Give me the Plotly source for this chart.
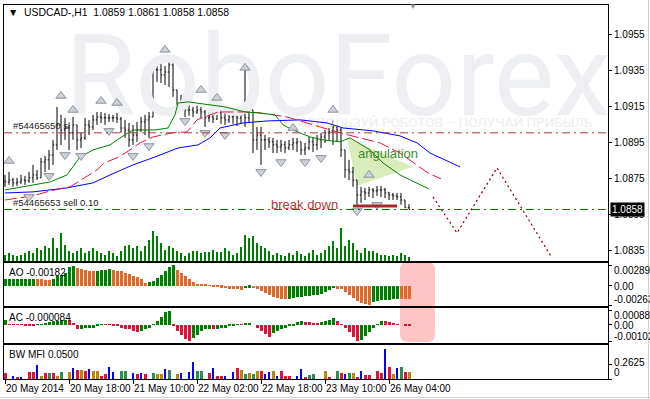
import plotly.graph_objects as go

W, H = 650, 399

# ---------------- data ----------------
bar_high = [1.08772,1.08789,1.08756,1.08756,1.08772,1.08767,1.08789,1.08828,1.0880,1.08867,
            1.08878,1.08911,1.08967,1.0915,1.09106,1.09089,1.0905,1.09094,1.0905,1.09006,
            1.09089,1.09078,1.09106,1.09122,1.09122,1.09117,1.09111,1.09106,1.09117,1.09094,
            1.09078,1.09061,1.0905,1.09067,1.09094,1.09106,1.09122,1.09411,1.0940,1.09411,
            1.09378,1.09411,1.09394,1.09244,1.09217,1.09161,1.09161,1.0915,1.09156,1.0915,
            1.09133,1.09122,1.09111,1.09144,1.09133,1.09122,1.09117,1.09133,1.09133,1.09144,
            1.09356,1.09189,1.09133,1.09039,1.09039,1.08994,1.08983,1.08978,1.08967,1.08967,
            1.08961,1.08967,1.08978,1.08978,1.08956,1.0895,1.08983,1.08978,1.08994,1.09006,
            1.09022,1.09033,1.09078,1.0905,1.09033,1.08911,1.08856,1.08817,1.08744,1.08706,
            1.0870,1.08706,1.0870,1.08711,1.08711,1.0870,1.08678,1.08672,1.08672,1.08672,
            1.08633,1.0861]
bar_low = [1.08706,1.08717,1.08706,1.08711,1.08722,1.08717,1.08728,1.08728,1.08744,1.08756,
           1.08789,1.0880,1.08828,1.08911,1.08939,1.08967,1.08911,1.08967,1.08911,1.08922,
           1.08967,1.08994,1.09022,1.0905,1.09061,1.0905,1.09067,1.09067,1.09061,1.09006,
           1.08978,1.08928,1.08939,1.08956,1.09011,1.08994,1.08978,1.09094,1.09289,1.09283,
           1.09272,1.09261,1.09206,1.09117,1.09122,1.09094,1.0910,1.09094,1.09111,1.09089,
           1.09039,1.09067,1.09061,1.09078,1.09056,1.0905,1.09061,1.09056,1.09044,1.09056,
           1.09039,1.09061,1.08894,1.08911,1.08828,1.08911,1.08922,1.08894,1.08894,1.0890,
           1.08894,1.08911,1.08911,1.0890,1.08883,1.08883,1.08911,1.0890,1.08911,1.08922,
           1.0895,1.08967,1.08939,1.08956,1.08872,1.08756,1.08744,1.08706,1.08606,1.08617,
           1.08633,1.0865,1.08644,1.08656,1.0865,1.08644,1.08633,1.08633,1.08633,1.08606,
           1.08589,1.0858]
bar_close = [1.08733,1.08744,1.08728,1.08733,1.08744,1.08739,1.08756,1.08772,1.08756,1.08844,
             1.08856,1.08883,1.08939,1.0905,1.09022,1.09033,1.09006,1.0905,1.08967,1.08978,
             1.0905,1.09039,1.09078,1.09094,1.09089,1.09089,1.09089,1.09089,1.09083,1.09033,
             1.09022,1.08967,1.08994,1.09022,1.09067,1.09078,1.09094,1.09356,1.09356,1.09328,
             1.09344,1.09383,1.09244,1.09161,1.09144,1.09133,1.09133,1.09122,1.09133,1.09122,
             1.09089,1.09094,1.09083,1.09117,1.09089,1.09078,1.09094,1.0910,1.09089,1.09106,
             1.09089,1.09133,1.08967,1.08994,1.08967,1.08967,1.08956,1.08939,1.08928,1.08939,
             1.08922,1.08939,1.0895,1.08956,1.08911,1.08922,1.08956,1.08939,1.08967,1.08983,
             1.09006,1.09011,1.09039,1.09022,1.08911,1.0880,1.08789,1.08744,1.08661,1.08678,
             1.08672,1.08689,1.08683,1.08689,1.08689,1.08672,1.08661,1.08656,1.0865,1.08633,
             1.0859,1.0858]
first_open = 1.08739
bar_open = [first_open] + bar_close[:-1]
bar_idx = list(range(len(bar_close)))

volume = [280,350,280,210,280,350,410,350,550,480,610,550,950,550,1150,680,410,350,410,550,
          350,410,550,410,350,280,410,350,210,410,610,680,550,610,410,610,880,1210,1010,750,
          480,610,550,410,350,210,350,410,410,350,400,400,480,400,400,550,410,280,350,600,
          1080,950,1010,750,640,550,410,280,350,280,210,350,280,410,320,210,350,480,280,360,
          480,610,810,550,1350,610,880,750,480,350,550,410,410,350,280,280,210,280,210,350,
          280,200]

# Alligator lines (bar index, price)
jaw_x = [0,7,15.5,22,26.25,32,37.5,43.25,48.25,51.25,53.75,59.5,65.5,73.75,80.5,84.5,92,98.75,103,106.25,113.75]
jaw_y = [1.08672,1.08678,1.0870,1.08728,1.08772,1.08828,1.08872,1.08922,1.08939,1.08978,1.09033,
         1.09061,1.09072,1.09078,1.09061,1.09033,1.09017,1.08989,1.0895,1.08894,1.08817]
teeth_x = [0,7,11.25,16.25,18.25,23,24.75,28,30.5,33.75,37,41.75,45.5,48,53.25,60,63.75,70.5,
           78.75,83.75,88.75,93.75,98.75,105.75,109]
teeth_y = [1.08633,1.08656,1.08683,1.08706,1.08733,1.0880,1.08839,1.08867,1.0890,1.0895,1.08983,
           1.09006,1.09011,1.09078,1.09122,1.09122,1.09117,1.09094,1.09039,1.09006,1.08978,1.0895,
           1.08894,1.08783,1.0875]
lips_x = [0,7,11.25,15.5,18.75,22,26.25,28.75,32,37.5,40.75,42.5,43.25,45.75,50.75,55,60,63.25,
          67.5,69.5,72,76.25,79.5,83.75,86.25,91.25,94.5,98.75,106]
lips_y = [1.08689,1.08717,1.08733,1.08772,1.08872,1.08911,1.08939,1.08978,1.09022,1.09022,1.09033,
          1.09106,1.09172,1.09178,1.09161,1.0915,1.09122,1.09117,1.09106,1.0905,1.09022,1.08983,
          1.08967,1.08956,1.08978,1.08911,1.08839,1.08772,1.08694]

# Fractals
up_x = [1,14,17,24,28,40,49,53,60,72,82,91]
up_y = [1.0885,1.09211,1.09133,1.09183,1.09172,1.09467,1.09244,1.0920,1.09367,1.09033,1.09133,1.08772]
dn_x = [6,11,15,19,26,32,36,45,50,55,64,69,75,79,88,93]
dn_y = [1.0865,1.08767,1.08883,1.08878,1.09017,1.08878,1.08933,1.09072,1.09006,1.08994,1.08789,
        1.08844,1.08844,1.08867,1.08572,1.08606]

# Forecast path and drawing objects
forecast_x = [107,113,123,136.75]
forecast_y = [1.0865,1.0845,1.08811,1.08311]
tri_x = [85.5,102,88]
tri_y = [1.08978,1.08817,1.08711]
breakdown_x = [87,98]
breakdown_y = 1.0860
sl_level = 1.09006
sell_level = 1.0858
last_price = 1.0858

# Awesome oscillator
ao = [0.00095,0.00096,0.00097,0.00098,0.00099,0.00100,0.00101,0.00102,
      0.00094,0.00090,0.00086,0.00083,
      0.00097,0.00131,0.00152,0.00186,0.00262,0.00280,
      0.00253,0.00239,0.00225,0.00207,0.00203,
      0.00211,0.00221,0.00225,0.00235,
      0.00221,0.00211,0.00203,0.00184,0.00166,0.00138,0.00120,0.00092,0.00046,
      0.00051,0.00073,0.00110,0.00156,0.00207,0.00266,0.00289,
      0.00221,0.00179,0.00138,0.00097,0.00055,0.00028,0.00021,0.00014,0.00004,-0.00007,-0.00010,
      -0.00021,-0.00034,-0.00046,-0.00047,-0.00048,-0.00049,
      -0.00028,-0.00021,
      -0.00028,-0.00048,-0.00069,-0.00097,-0.00128,-0.00148,-0.00166,-0.00179,-0.00184,
      -0.00179,-0.00166,-0.00156,-0.00148,-0.00142,-0.00138,-0.00128,-0.00120,-0.00110,-0.00079,-0.00051,-0.00032,
      -0.00035,-0.00046,-0.00083,-0.00124,-0.00166,-0.00207,-0.00235,-0.00252,-0.00263,
      -0.00221,-0.00207,-0.00200,-0.00193,-0.00189,-0.00184,-0.00178,
      -0.00180,-0.00181,-0.00182]

# Accelerator oscillator
ac = [0.00028,0.00006,0.00004,0.00003,0.00002,-0.00002,-0.00004,-0.00005,
      0.00002,0.00006,0.00013,0.00019,0.00022,0.00025,0.00031,0.00034,
      0.00028,0.00009,-0.00025,
      -0.00023,-0.00021,-0.00019,-0.00016,-0.00009,0.00006,
      0.00004,0.00002,-0.00003,-0.00009,-0.00016,-0.00022,-0.00028,-0.00038,-0.00041,
      -0.00038,-0.00025,-0.00016,0.00006,0.00025,0.00050,0.00081,0.000889,
      -0.00006,-0.00038,-0.00063,-0.00088,-0.00102,
      -0.00081,-0.00063,-0.00035,-0.00028,-0.00025,
      -0.00027,
      -0.00024,-0.00021,-0.00019,-0.00009,-0.00006,0.00004,
      0.00003,
      0.00013,0.00014,
      0.00000,-0.00019,-0.00038,-0.00056,-0.00072,
      -0.00053,-0.00038,-0.00025,-0.00016,-0.00009,-0.00003,0.00016,0.00022,
      0.00019,0.00017,0.00014,0.00012,
      0.00016,0.00022,0.00031,0.00044,
      0.00025,0.00006,-0.00019,-0.00044,-0.00075,-0.00102,
      -0.00092,-0.00069,-0.00044,-0.00019,0.00006,0.00025,
      0.00022,0.00016,0.00009,0.00002,0.00000,-0.00006,-0.000084]

# BW Market Facilitation Index
mfi = [0.105,0,0.06,0.035,0.04,0,0.125,0.125,0.25,0.06,
       0.105,0.105,0.105,0.06,0.125,0,0.125,0.19,0.155,0.155,
       0.14,0.17,0.14,0.14,0.06,0.09,0.21,0.12,0,0.14,
       0.14,0,0.11,0.09,0.10,0.09,0,0.11,0.08,0.08,
       0.17,0.155,0,0.09,0.11,0,0.12,0.30,0.14,0.14,
       0,0.11,0.19,0.06,0.06,0.06,0,0.13,0.20,0.16,
       0.08,0.11,0.08,0.15,0.15,0.09,0.12,0.14,0.06,0.15,
       0.06,0.05,0,0.06,0.17,0.02,0.07,0.08,0,0,
       0.14,0.02,0,0.14,0.11,0.09,0.10,0.10,0.02,0.15,
       0.07,0.07,0,0.15,0.11,0.53,0.21,0.09,0.19,0.22,
       0.13,0.12]
mfi_kind = list("rrbrbrrrby" "rgrygrybry" "rbyyrrbbrg" "grbrbrrgyy" "bgrybrbbgg"
                "rrbrrbrbry" "gygyrbbybr" "rrrbbrggrr" "yrrgrbgyrb" "rrrrrbrybg" "ry")

time_ticks = [0,16,32,48,64,80,96]
time_labels = ["20 May 2014","20 May 18:00","21 May 10:00","22 May 02:00",
               "22 May 18:00","23 May 10:00","26 May 04:00"]
price_ticks = [1.0835,1.0855,1.0875,1.0895,1.0915,1.0935,1.0955]
ao_ticks = [-0.00263,0,0.00289]
ao_tick_text = ["-0.00263","0.00","0.00289"]
ac_ticks = [-0.00102,0,0.000889]
ac_tick_text = ["-0.00102","0.00","0.000889"]
mfi_ticks = [0,0.2625]
mfi_tick_text = ["0","0.2625"]

# ---------------- styling ----------------
FONT = "Liberation Sans, Arial, sans-serif"
GREEN = "#008000"
AO_UP, AO_DN = "#008000", "#E0692A"
AC_UP, AC_DN = "#008000", "#DC143C"
MFI_COL = {"r": "#DC143C", "g": "#2E8B57", "y": "#B8860B", "b": "#0000FF"}

def pyp(px):  # pixel row -> paper y
    return 1 - px / H

def pxp(px):  # pixel column -> paper x
    return px / W

XDOM = [pxp(4), pxp(608)]
XR = [-0.25, 150.75]

ao_col = [AO_UP] + [AO_UP if ao[i] > ao[i-1] else AO_DN for i in range(1, len(ao))]
ac_col = [AC_UP] + [AC_UP if ac[i] > ac[i-1] else AC_DN for i in range(1, len(ac))]
mfi_col = [MFI_COL[k] for k in mfi_kind]
mfi_w = [0.25 if k == "b" else 0.75 for k in mfi_kind]

fig = go.Figure()

# watermark (drawn first so it stays behind everything)
fig.add_trace(go.Scatter(x=[83.25], y=[1.09264], mode="text", text=["RoboForex"],
                         textfont=dict(family="Roboto, Open Sans, sans-serif", size=114, color="#EDEFF2"),
                         xaxis="x", yaxis="y", hoverinfo="skip", showlegend=False))
fig.add_trace(go.Scatter(x=[110.0], y=[1.09056], mode="text",
                         text=["ИСПОЛЬЗУЙ РОБОТОВ – ПОЛУЧАЙ ПРИБЫЛЬ"],
                         textfont=dict(family="Roboto, Open Sans, sans-serif", size=13.5, color="#ECEEF1"),
                         xaxis="x", yaxis="y", hoverinfo="skip", showlegend=False))

# Alligator
fig.add_trace(go.Scatter(x=jaw_x, y=jaw_y, mode="lines", line=dict(color="#0000FF", width=1),
                         xaxis="x", yaxis="y", showlegend=False))
fig.add_trace(go.Scatter(x=teeth_x, y=teeth_y, mode="lines",
                         line=dict(color="#E8143C", width=1, dash="12px,4px"),
                         xaxis="x", yaxis="y", showlegend=False))
fig.add_trace(go.Scatter(x=lips_x, y=lips_y, mode="lines", line=dict(color=GREEN, width=1),
                         xaxis="x", yaxis="y", showlegend=False))

# price bars
fig.add_trace(go.Ohlc(x=bar_idx, open=bar_open, high=bar_high, low=bar_low, close=bar_close,
                      increasing=dict(line=dict(color="#000000", width=1)),
                      decreasing=dict(line=dict(color="#000000", width=1)),
                      tickwidth=0.3, xaxis="x", yaxis="y", showlegend=False))

# forecast
fig.add_trace(go.Scatter(x=forecast_x, y=forecast_y, mode="lines",
                         line=dict(color="#8B0000", width=1.2, dash="2px,3px"),
                         xaxis="x", yaxis="y", showlegend=False))

# fractals
fig.add_trace(go.Scatter(x=up_x, y=up_y, mode="markers",
                         marker=dict(symbol="triangle-up", size=9, color="#CDD1D8",
                                     line=dict(color="#8C929E", width=1)),
                         xaxis="x", yaxis="y", showlegend=False))
fig.add_trace(go.Scatter(x=dn_x, y=dn_y, mode="markers",
                         marker=dict(symbol="triangle-down", size=9, color="#CDD1D8",
                                     line=dict(color="#8C929E", width=1)),
                         xaxis="x", yaxis="y", showlegend=False))

# volumes
fig.add_trace(go.Bar(x=bar_idx, y=volume, width=0.2, marker=dict(color=GREEN, line=dict(width=0)),
                     xaxis="x", yaxis="y5", showlegend=False))

# AO / AC / MFI
fig.add_trace(go.Bar(x=bar_idx, y=ao, width=0.75, marker=dict(color=ao_col, line=dict(width=0)),
                     xaxis="x2", yaxis="y2", showlegend=False))
fig.add_trace(go.Bar(x=bar_idx, y=ac, width=0.75, marker=dict(color=ac_col, line=dict(width=0)),
                     xaxis="x3", yaxis="y3", showlegend=False))
fig.add_trace(go.Bar(x=bar_idx, y=mfi, width=mfi_w, marker=dict(color=mfi_col, line=dict(width=0)),
                     xaxis="x4", yaxis="y4", showlegend=False))

frame = dict(showline=True, linecolor="#000000", linewidth=1, mirror=True,
             showgrid=False, zeroline=False, automargin=False)
xcommon = dict(domain=XDOM, range=XR, fixedrange=True, **frame)
ycommon = dict(side="right", ticks="outside", ticklen=3, tickcolor="#000000",
               tickfont=dict(family=FONT, size=10, color="#000000"), fixedrange=True, **frame)

fig.update_layout(
    width=W, height=H, autosize=False,
    margin=dict(l=0, r=0, t=0, b=0, pad=0, autoexpand=False),
    paper_bgcolor="#FFFFFF", plot_bgcolor="rgba(0,0,0,0)",
    showlegend=False, hovermode=False, bargap=0,
    font=dict(family=FONT, size=10, color="#000000"),
    xaxis=dict(anchor="y", showticklabels=False, ticks="", rangeslider=dict(visible=False), **xcommon),
    xaxis2=dict(anchor="y2", matches="x", showticklabels=False, ticks="", **xcommon),
    xaxis3=dict(anchor="y3", matches="x", showticklabels=False, ticks="", **xcommon),
    xaxis4=dict(anchor="y4", matches="x", showticklabels=False, ticks="outside", ticklen=4,
                tickcolor="#000000", tickvals=time_ticks, **xcommon),
    yaxis=dict(domain=[pyp(261), pyp(4.5)], anchor="x", range=[1.08294, 1.09719],
               tickvals=price_ticks, ticktext=[f"{v:.4f}" for v in price_ticks], **ycommon),
    yaxis5=dict(overlaying="y", range=[0, 10280], visible=False, fixedrange=True),
    yaxis2=dict(domain=[pyp(306), pyp(263)], anchor="x2", range=[-0.00276, 0.00317],
                tickvals=ao_ticks, showticklabels=False, **ycommon),
    yaxis3=dict(domain=[pyp(343), pyp(308)], anchor="x3", range=[-0.001125, 0.00106],
                tickvals=ac_ticks, showticklabels=False, **ycommon),
    yaxis4=dict(domain=[pyp(379), pyp(345)], anchor="x4", range=[0, 0.6],
                tickvals=mfi_ticks, showticklabels=False, **ycommon),
)

shapes = []
shapes.append(dict(type="path", xref="x", yref="y", layer="below", line=dict(width=0),
                   fillcolor="#D9EDBA",
                   path=f"M {tri_x[0]},{tri_y[0]} L {tri_x[1]},{tri_y[1]} L {tri_x[2]},{tri_y[2]} Z"))
shapes.append(dict(type="line", xref="x domain", yref="y", x0=0, x1=1, y0=sl_level, y1=sl_level,
                   line=dict(color="#A0393C", width=1, dash="8px,4px,2px,4px")))
shapes.append(dict(type="line", xref="x domain", yref="y", x0=0, x1=1, y0=sell_level, y1=sell_level,
                   line=dict(color=GREEN, width=1, dash="8px,4px,2px,4px")))
shapes.append(dict(type="line", xref="x", yref="y", x0=breakdown_x[0], x1=breakdown_x[1],
                   y0=breakdown_y, y1=breakdown_y, line=dict(color="#A52A2A", width=3)))
x0, x1, y0, y1 = pxp(400), pxp(435), pyp(342), pyp(262)
rx, ry = 8 / W, 8 / H
shapes.append(dict(type="path", xref="paper", yref="paper", layer="below", line=dict(width=0),
                   fillcolor="#FFC4C4",
                   path=(f"M {x0+rx},{y0} L {x1-rx},{y0} Q {x1},{y0} {x1},{y0+ry} "
                         f"L {x1},{y1-ry} Q {x1},{y1} {x1-rx},{y1} L {x0+rx},{y1} "
                         f"Q {x0},{y1} {x0},{y1-ry} L {x0},{y0+ry} Q {x0},{y0} {x0+rx},{y0} Z")))
# window frame (light grey) at right and bottom edges
shapes.append(dict(type="line", xref="paper", yref="paper", x0=0, x1=1, y0=pyp(397.5), y1=pyp(397.5),
                   line=dict(color="#D0D0D0", width=1)))
shapes.append(dict(type="line", xref="paper", yref="paper", x0=pxp(648.5), x1=pxp(648.5), y0=0, y1=1,
                   line=dict(color="#D0D0D0", width=1)))
fig.update_layout(shapes=shapes)

ann = []
def txt(x, y, s, xref="paper", yref="paper", anchor="left", size=10, color="#000000", **kw):
    ann.append(dict(xref=xref, yref=yref, x=x, y=y, xanchor=anchor, yanchor="middle", text=s,
                    showarrow=False, font=dict(family=FONT, size=size, color=color), **kw))

txt(pxp(6), pyp(12), "▼\u00a0\u00a0USDCAD-,H1\u00a0\u00a01.0859 1.0861 1.0858 1.0858", size=10.4)
ann.append(dict(xref="paper", yref="paper", x=pxp(413), y=pyp(6), xanchor="center", yanchor="middle",
                text="▼", showarrow=False, font=dict(size=8, color="#8C96A0")))
ann.append(dict(xref="x", yref="y", x=1.6, y=sl_level, xanchor="left", yanchor="bottom",
                text="#54465650 sl", showarrow=False, font=dict(family=FONT, size=9.5, color="#202020")))
ann.append(dict(xref="x", yref="y", x=1.6, y=sell_level, xanchor="left", yanchor="bottom",
                text="#54465653 sell 0.10", showarrow=False,
                font=dict(family=FONT, size=9.5, color="#202020")))
txt(95.8, 1.08894, "angulation", xref="x", yref="y", anchor="center", size=13, color="#3C8C28")
txt(74.9, 1.08606, "break down", xref="x", yref="y", anchor="center", size=13, color="#B23A3A")
txt(pxp(610), last_price, f"{last_price:.4f}", yref="y", color="#FFFFFF", bgcolor="#000000", borderpad=1)
txt(pxp(7), pyp(272), f"AO {ao[-1]:.5f}")
txt(pxp(7), pyp(317), f"AC {ac[-1]:.6f}")
txt(pxp(7), pyp(354), "BW MFI 0.0500")
# right-hand labels of the indicator windows (placed where the terminal prints them)
for s, ypx in zip(ao_tick_text, [299, 286, 270]):
    txt(pxp(612), pyp(ypx), s)
for s, ypx in zip(ac_tick_text, [336, 325, 315.5]):
    txt(pxp(612), pyp(ypx), s)
for s, ypx in zip(mfi_tick_text, [372.5, 362.5]):
    txt(pxp(612), pyp(ypx), s)
for t, lab in zip(time_ticks, time_labels):
    txt(t, pyp(388), lab, xref="x4", xshift=-1.5)
fig.update_layout(annotations=ann)

fig.write_html("out.html")
